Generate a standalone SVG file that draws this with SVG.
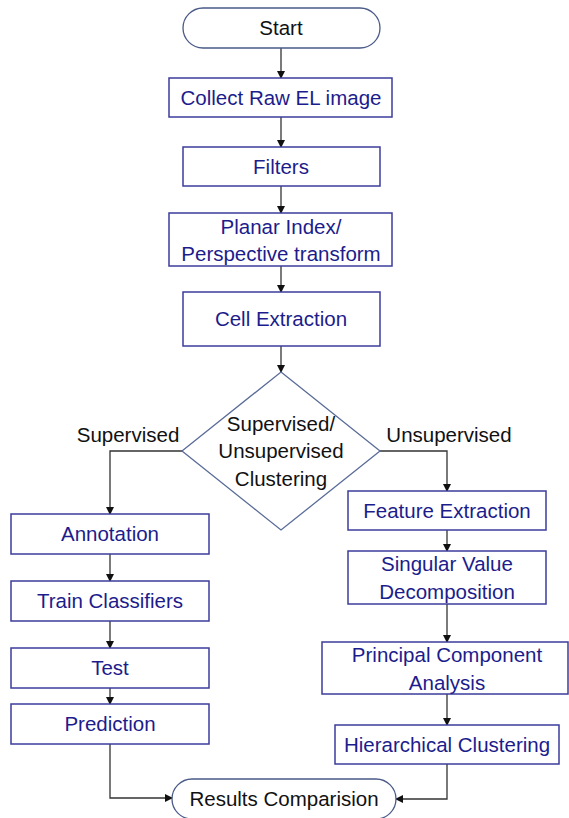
<svg xmlns="http://www.w3.org/2000/svg" width="569" height="818" viewBox="0 0 569 818">
<defs>
<style>
.box{fill:#fff;stroke:#3c3c9c;stroke-width:1.5}
.term{fill:#fff;stroke:#4a5a88;stroke-width:1.3}
.dia{fill:#fff;stroke:#5a6c98;stroke-width:1.3}
.t{font-family:"Liberation Sans",Arial,sans-serif;font-size:20.5px;fill:#1c1c8c;text-anchor:middle}
.k{font-family:"Liberation Sans",Arial,sans-serif;font-size:20.5px;fill:#111;text-anchor:middle}
.c{fill:none;stroke:#333;stroke-width:1.3}
</style>
<marker id="a" markerWidth="8" markerHeight="8" refX="7" refY="4" orient="auto" markerUnits="userSpaceOnUse">
<path d="M0,0 L8,4 L0,8 z" fill="#111"/>
</marker>
</defs>
<rect width="569" height="818" fill="#fff"/>
<g id="connectors">
<line class="c" x1="281" y1="48" x2="281" y2="78" marker-end="url(#a)"/>
<line class="c" x1="281" y1="117" x2="281" y2="147" marker-end="url(#a)"/>
<line class="c" x1="281" y1="186" x2="281" y2="213" marker-end="url(#a)"/>
<line class="c" x1="281" y1="266" x2="281" y2="292" marker-end="url(#a)"/>
<line class="c" x1="281" y1="346" x2="281" y2="372" marker-end="url(#a)"/>
<polyline class="c" points="182,451 110,451 110,514" marker-end="url(#a)"/>
<polyline class="c" points="380,451 447,451 447,491" marker-end="url(#a)"/>
<line class="c" x1="110" y1="554" x2="110" y2="581" marker-end="url(#a)"/>
<line class="c" x1="110" y1="621" x2="110" y2="648" marker-end="url(#a)"/>
<line class="c" x1="110" y1="688" x2="110" y2="704" marker-end="url(#a)"/>
<polyline class="c" points="110,744 110,798 172,798" marker-end="url(#a)"/>
<line class="c" x1="447" y1="530" x2="447" y2="551" marker-end="url(#a)"/>
<line class="c" x1="447" y1="604" x2="447" y2="642" marker-end="url(#a)"/>
<line class="c" x1="447" y1="694" x2="447" y2="725" marker-end="url(#a)"/>
<polyline class="c" points="447,764 447,799 396,799" marker-end="url(#a)"/>
<text class="k" x="128" y="442">Supervised</text>
<text class="k" x="449" y="442">Unsupervised</text>
</g>
<g id="start"><rect class="term" x="183" y="8" width="197" height="40" rx="20"/><text class="k" x="281" y="35">Start</text></g>
<g id="collect"><rect class="box" x="169" y="78" width="223" height="39"/><text class="t" x="281" y="105">Collect Raw EL image</text></g>
<g id="filters"><rect class="box" x="183" y="147" width="197" height="39"/><text class="t" x="281" y="174">Filters</text></g>
<g id="planar"><rect class="box" x="169" y="213" width="223" height="53"/><text class="t" x="281" y="234">Planar Index/</text><text class="t" x="281" y="261">Perspective transform</text></g>
<g id="cell"><rect class="box" x="183" y="292" width="197" height="54"/><text class="t" x="281" y="326">Cell Extraction</text></g>
<g id="decision"><polygon class="dia" points="281,372 380,451 281,530 182,451"/><text class="k" x="281" y="431">Supervised/</text><text class="k" x="281" y="458">Unsupervised</text><text class="k" x="281" y="486">Clustering</text></g>
<g id="annotation"><rect class="box" x="11" y="514" width="198" height="40"/><text class="t" x="110" y="541">Annotation</text></g>
<g id="train"><rect class="box" x="11" y="581" width="198" height="40"/><text class="t" x="110" y="608">Train Classifiers</text></g>
<g id="test"><rect class="box" x="11" y="648" width="198" height="40"/><text class="t" x="110" y="675">Test</text></g>
<g id="prediction"><rect class="box" x="11" y="704" width="198" height="40"/><text class="t" x="110" y="731">Prediction</text></g>
<g id="feature"><rect class="box" x="348" y="491" width="198" height="39"/><text class="t" x="447" y="518">Feature Extraction</text></g>
<g id="svd"><rect class="box" x="348" y="551" width="198" height="53"/><text class="t" x="447" y="571">Singular Value</text><text class="t" x="447" y="599">Decomposition</text></g>
<g id="pca"><rect class="box" x="322" y="642" width="246" height="52"/><text class="t" x="447" y="662">Principal Component</text><text class="t" x="447" y="690">Analysis</text></g>
<g id="hier"><rect class="box" x="335" y="725" width="224" height="39"/><text class="t" x="447" y="752">Hierarchical Clustering</text></g>
<g id="results"><rect class="term" x="172" y="779" width="224" height="40" rx="20"/><text class="k" x="284" y="806">Results Comparision</text></g>
</svg>
